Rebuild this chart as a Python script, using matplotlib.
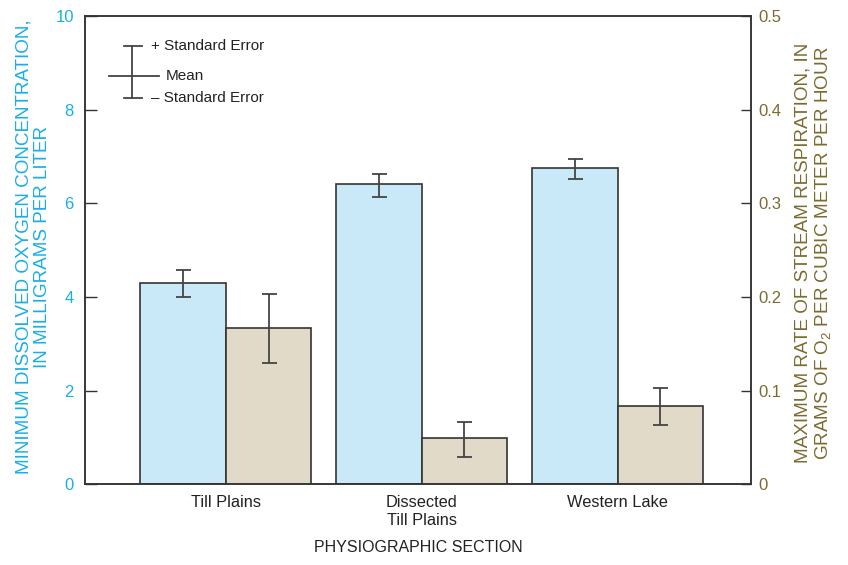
import numpy as np
import matplotlib
matplotlib.use('Agg')
import matplotlib.pyplot as plt

plt.rcParams['font.family'] = ['Liberation Sans', 'DejaVu Sans']
plt.rcParams['mathtext.fontset'] = 'custom'
plt.rcParams['mathtext.rm'] = 'Liberation Sans'

# data
sections = ['Till Plains', 'Dissected\nTill Plains', 'Western Lake']
oxygen = [4.30, 6.41, 6.75]          # mg/L
oxygen_hi = [4.57, 6.63, 6.95]
oxygen_lo = [3.99, 6.13, 6.52]
resp = [0.167, 0.049, 0.0836]        # g O2 / m3 / h
resp_hi = [0.2035, 0.066, 0.1025]
resp_lo = [0.129, 0.0288, 0.0633]

cyan = '#1aaee6'
olive = '#7a6b30'
blue_fill = '#c9e9f8'
tan_fill = '#e2dac8'
dark = '#333333'
errc = '#444444'

fig = plt.figure(figsize=(8.48, 5.65), dpi=100)
ax = fig.add_axes([0.1002, 0.1428, 0.786, 0.8289])
ax2 = ax.twinx()

x = np.arange(len(sections))
w = 0.436

ox = np.array(oxygen)
oerr = [ox - np.array(oxygen_lo), np.array(oxygen_hi) - ox]
ax.bar(x - w/2, ox, w, color=blue_fill, edgecolor=dark, linewidth=1.2, zorder=2)
ax.errorbar(x - w/2, ox, yerr=oerr, fmt='none', ecolor=errc, elinewidth=1.3,
            capsize=5.4, capthick=1.3, zorder=3)

rs = np.array(resp)
rerr = [rs - np.array(resp_lo), np.array(resp_hi) - rs]
ax2.bar(x + w/2, rs, w, color=tan_fill, edgecolor=dark, linewidth=1.2, zorder=2)
ax2.errorbar(x + w/2, rs, yerr=rerr, fmt='none', ecolor=errc, elinewidth=1.3,
             capsize=5.4, capthick=1.3, zorder=3)

ax.set_xlim(-0.719, 2.683)
ax.set_ylim(0, 10)
ax2.set_ylim(0, 0.5)
ax.set_yticks([0, 2, 4, 6, 8, 10])
ax2.set_yticks([0, 0.1, 0.2, 0.3, 0.4, 0.5])
ax2.set_yticklabels(['0', '0.1', '0.2', '0.3', '0.4', '0.5'])
ax.set_xticks(x)
ax.set_xticklabels(sections, fontsize=11.8, color='#222222', linespacing=1.25)

ax.tick_params(axis='x', length=0, pad=8)
ax.tick_params(axis='y', direction='in', length=8.5, width=1, color=dark,
               labelcolor=cyan, labelsize=12, pad=8)
ax2.tick_params(axis='y', direction='in', length=7.5, width=1, color=dark,
                labelcolor=olive, labelsize=12, pad=5)

for a in (ax, ax2):
    for s in a.spines.values():
        s.set_color(dark)
        s.set_linewidth(1.1)

ax.set_xlabel('PHYSIOGRAPHIC SECTION', fontsize=11.5, color='#222222', labelpad=8)

# axis titles placed as figure text
fig.text(0.0395, 0.5637, 'MINIMUM DISSOLVED OXYGEN CONCENTRATION,\nIN MILLIGRAMS PER LITER',
         rotation=90, ha='center', va='center', multialignment='center',
         fontsize=13.6, color=cyan, linespacing=1.12)
fig.text(0.9595, 0.552, 'MAXIMUM RATE OF STREAM RESPIRATION, IN\n'
         'GRAMS OF O$\\mathregular{_2}$ PER CUBIC METER PER HOUR',
         rotation=90, ha='center', va='center', multialignment='center',
         fontsize=13.6, color=olive, linespacing=1.12)

# legend key drawn by hand
tr = ax.transAxes
ax.plot([0.0705, 0.0705], [0.8255, 0.936], color=errc, lw=1.3, transform=tr)
ax.plot([0.0585, 0.085], [0.936, 0.936], color=errc, lw=1.3, transform=tr)
ax.plot([0.0585, 0.085], [0.8255, 0.8255], color=errc, lw=1.3, transform=tr)
ax.plot([0.0365, 0.111], [0.8725, 0.8725], color=errc, lw=1.3, transform=tr)
ax.text(0.0986, 0.936, '+ Standard Error', transform=tr, fontsize=11,
        va='center', ha='left', color='#222222')
ax.text(0.1215, 0.8725, 'Mean', transform=tr, fontsize=11,
        va='center', ha='left', color='#222222')
ax.text(0.0986, 0.8255, '\u2013 Standard Error', transform=tr, fontsize=11,
        va='center', ha='left', color='#222222')

fig.savefig('out.png', dpi=100)
